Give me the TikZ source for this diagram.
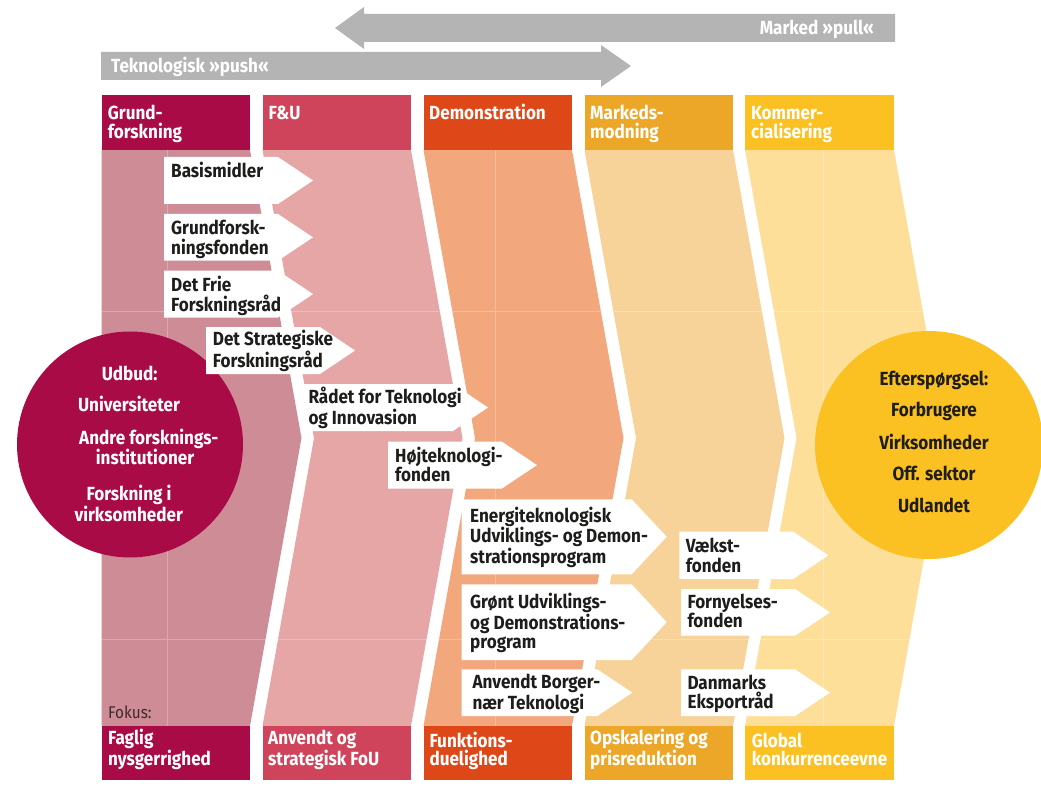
\documentclass[tikz,border=0pt]{standalone}
\usepackage{fontspec}
\setmainfont{Fira Sans}[FakeStretch=0.9]
\definecolor{hA}{HTML}{A80B45}\definecolor{bA}{HTML}{CE8C96}
\definecolor{hB}{HTML}{CF445A}\definecolor{bB}{HTML}{E6A6A6}
\definecolor{hC}{HTML}{DE4819}\definecolor{bC}{HTML}{F2A77D}
\definecolor{hD}{HTML}{ECA729}\definecolor{bD}{HTML}{F8D399}
\definecolor{hE}{HTML}{FBC022}\definecolor{bE}{HTML}{FEDF9A}
\definecolor{greyarr}{HTML}{B4B4B4}
\definecolor{txt}{HTML}{1D1D1B}
\definecolor{fok}{HTML}{3C2A2D}
\newcommand\arrbox[4]{\fill[white] (#1,#2) -- ({#4-35},#2) -- (#4,{(#2+#3)/2}) -- ({#4-35},#3) -- (#1,#3) -- cycle;}
\tikzset{
  lbl/.style={inner sep=0pt, anchor=base west, align=left, text=txt,
    font=\bfseries\fontsize{19}{19.3}\selectfont},
  hdr/.style={lbl, text=white, font=\bfseries\fontsize{19}{18.4}\selectfont},
  ctxt/.style={inner sep=0pt, anchor=base, text=white,
    font=\bfseries\fontsize{19}{19.3}\selectfont},
  rtxt/.style={ctxt, text=txt},
  gridl/.style={white, opacity=0.25, line width=1pt},
}
\begin{document}
\begin{tikzpicture}[x=1pt,y=-1pt]
\useasboundingbox (0,0) rectangle (1041,794);
\clip (0,0) rectangle (1041,794);
% grey arrows
\fill[greyarr] (895,14) -- (364,14) -- (364,7) -- (335,28) -- (364,49) -- (364,42) -- (895,42) -- cycle;
\fill[greyarr] (101,52) -- (601,52) -- (601,45) -- (631,66) -- (601,87) -- (601,80) -- (101,80) -- cycle;
\node[hdr, anchor=base east] (pull) at (874,34.3) {Marked »pull«};
\node[hdr] (push) at (111,72.7) {Teknologisk »push«};
% bands
\fill[bA] (101.5,150) -- (250,150) -- (301.5,438) -- (250,726) -- (101.5,726) -- cycle;
\fill[bB] (262.5,150) -- (411,150) -- (462.5,438) -- (411,726) -- (262.5,726) -- (314,438) -- cycle;
\fill[bC] (423.5,150) -- (572,150) -- (623.5,438) -- (572,726) -- (423.5,726) -- (475,438) -- cycle;
\fill[bD] (584.5,150) -- (733,150) -- (784.5,438) -- (733,726) -- (584.5,726) -- (636,438) -- cycle;
\fill[bE] (745,150) -- (894,150) -- (945.5,438) -- (894,726) -- (745,726) -- (796.5,438) -- cycle;
\begin{scope}
\clip (101.5,150) -- (250,150) -- (301.5,438) -- (250,726) -- (101.5,726) -- cycle
      (262.5,150) -- (411,150) -- (462.5,438) -- (411,726) -- (262.5,726) -- (314,438) -- cycle
      (423.5,150) -- (572,150) -- (623.5,438) -- (572,726) -- (423.5,726) -- (475,438) -- cycle
      (584.5,150) -- (733,150) -- (784.5,438) -- (733,726) -- (584.5,726) -- (636,438) -- cycle
      (745,150) -- (894,150) -- (945.5,438) -- (894,726) -- (745,726) -- (796.5,438) -- cycle;
\draw[gridl] (0,311.7) -- (1041,311.7) (0,639.3) -- (1041,639.3)
  (167,150) -- (167,726) (495,150) -- (495,726) (823,150) -- (823,726);
\end{scope}
% headers
\fill[hA] (101.5,95.5) rectangle (250,150);
\fill[hB] (262.5,95.5) rectangle (411,150);
\fill[hC] (423.5,95.5) rectangle (572,150);
\fill[hD] (584.5,95.5) rectangle (733,150);
\fill[hE] (745,95.5) rectangle (894,150);
\fill[hA] (101.5,726) rectangle (250,779.5);
\fill[hB] (262.5,726) rectangle (411,779.5);
\fill[hC] (423.5,726) rectangle (572,779.5);
\fill[hD] (584.5,726) rectangle (733,779.5);
\fill[hE] (745,726) rectangle (894,779.5);
% (multi-line nodes are placed at the baseline of their last line)
\node[hdr] (h1) at (107.7,138.4) {Grund-\\forskning};
\node[hdr] (h2) at (268.3,120) {F\&U};
\node[hdr] (h3) at (429,120) {Demonstration};
\node[hdr] (h4) at (590,138.4) {Markeds-\\modning};
\node[hdr] (h5) at (751,138.4) {Kommer-\\cialisering};
\node[hdr] (f1) at (108,765.1) {Faglig\\nysgerrighed};
\node[hdr] (f2) at (268,765.1) {Anvendt og\\strategisk FoU};
\node[hdr] (f3) at (429.3,765.4) {Funktions-\\duelighed};
\node[hdr] (f4) at (590,765.4) {Opskalering og\\prisreduktion};
\node[hdr] (f5) at (751.7,765.4) {Global\\konkurrenceevne};
\node[lbl, text=fok, font=\fontsize{17}{18}\selectfont] (fokus) at (108,718.3) {Fokus:};
% circles
\fill[hA] (130,444.5) circle[radius=113pt];
\fill[hE] (929,445) circle[radius=114pt];
\node[ctxt] (udbud) at (129.7,380) {Udbud:};
\node[ctxt] (univ) at (129,411.7) {Universiteter};
\node[ctxt, anchor=base west] (andre) at (79,444) {Andre forsknings-};
\node[ctxt] (inst) at (145,464) {institutioner};
\node[ctxt] (forsk) at (129,500) {Forskning i};
\node[ctxt] (virk) at (128.7,521.7) {virksomheder};
\node[rtxt] (eft) at (934,385) {Efterspørgsel:};
\node[rtxt] (forb) at (934,416.7) {Forbrugere};
\node[rtxt] (virks) at (934,449) {Virksomheder};
\node[rtxt] (off) at (934,480.7) {Off. sektor};
\node[rtxt] (udl) at (934,512.7) {Udlandet};
% arrow boxes
\arrbox{164}{157}{204}{313}
\arrbox{164}{214}{260.7}{313}
\arrbox{164}{270.7}{317.5}{313}
\arrbox{206}{327}{374}{355}
\arrbox{303}{384}{431}{488}
\arrbox{388}{441.7}{488.5}{537}
\arrbox{461.7}{499.3}{574.3}{666.7}
\arrbox{461.7}{584.3}{660}{666.7}
\arrbox{461.7}{669.3}{716}{632.3}
\arrbox{679.3}{531.7}{579}{828.3}
\arrbox{681}{589}{635.7}{830}
\arrbox{681}{669.3}{716}{830}
\node[lbl] (t1) at (171,177.7) {Basismidler};
\node[lbl] (t2) at (171,254.3) {Grundforsk-\\ningsfonden};
\node[lbl] (t3) at (171,311) {Det Frie\\Forskningsråd};
\node[lbl] (t4) at (212.7,367.6) {Det Strategiske\\Forskningsråd};
\node[lbl] (t5) at (308.3,424.3) {Rådet for Teknologi\\og Innovasion};
\node[lbl] (t6) at (395,481.6) {Højteknologi-\\fonden};
\node[lbl] (t7) at (470,563.6) {Energiteknologisk\\Udviklings- og Demon-\\strationsprogram};
\node[lbl] (t8) at (470,648.6) {Grønt Udviklings-\\og Demonstrations-\\program};
\node[lbl] (t9) at (472.3,709.3) {Anvendt Borger-\\nær Teknologi};
\node[lbl] (t10) at (685.7,572) {Vækst-\\fonden};
\node[lbl] (t11) at (687.3,627.6) {Fornyelses-\\fonden};
\node[lbl] (t12) at (687.3,708.6) {Danmarks\\Eksportråd};
\end{tikzpicture}
\end{document}
